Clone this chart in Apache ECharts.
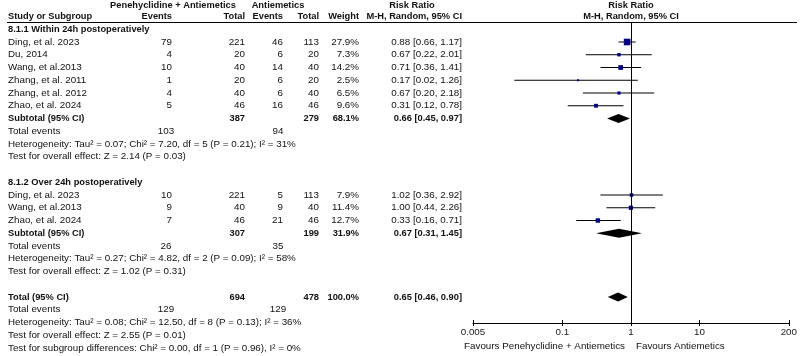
<!DOCTYPE html>
<html><head><meta charset="utf-8">
<script src="https://cdn.jsdelivr.net/npm/echarts@6/dist/echarts.min.js"></script>
<style>html,body{margin:0;padding:0;background:#fff}#c{width:800px;height:356px}</style>
</head><body><div id="c"></div>
<script>
// ---------- data ----------
const studyNames = ["Ding, et al. 2023","Du, 2014","Wang, et al.2013","Zhang, et al. 2011","Zhang, et al. 2012","Zhao, et al. 2024",
                    "Ding, et al. 2023","Wang, et al.2013","Zhao, et al. 2024"];
const studyRows  = [2,3,4,5,6,7,14,15,16];
const eventsExp  = [79,4,10,1,4,5,10,9,7];
const totalExp   = [221,20,40,20,40,46,221,40,46];
const eventsCtl  = [46,6,14,6,6,16,5,9,21];
const totalCtl   = [113,20,40,20,40,46,113,40,46];
const weights    = [27.9,7.3,14.2,2.5,6.5,9.6,7.9,11.4,12.7];
const rr         = [0.88,0.67,0.71,0.17,0.67,0.31,1.02,1.00,0.33];
const rrLow      = [0.66,0.22,0.36,0.02,0.20,0.12,0.36,0.44,0.16];
const rrHigh     = [1.17,2.01,1.41,1.26,2.18,0.78,2.92,2.26,0.71];

const pooledNames = ["Subtotal (95% CI)","Subtotal (95% CI)","Total (95% CI)"];
const pooledRows  = [8,17,22];
const pooledTotExp = [387,307,694];
const pooledTotCtl = [279,199,478];
const pooledWeight = [68.1,31.9,100.0];
const pooledRR   = [0.66,0.67,0.65];
const pooledLow  = [0.45,0.31,0.46];
const pooledHigh = [0.97,1.45,0.90];

const totalEventsRows = [9,18,23];
const totalEventsExp  = [103,26,129];
const totalEventsCtl  = [94,35,129];

const headingTexts = ["8.1.1 Within 24h postoperatively","8.1.2 Over 24h postoperatively"];
const headingRows  = [1,13];
const noteTexts = [
  "Heterogeneity: Tau\u00b2 = 0.07; Chi\u00b2 = 7.20, df = 5 (P = 0.21); I\u00b2 = 31%",
  "Test for overall effect: Z = 2.14 (P = 0.03)",
  "Heterogeneity: Tau\u00b2 = 0.27; Chi\u00b2 = 4.82, df = 2 (P = 0.09); I\u00b2 = 58%",
  "Test for overall effect: Z = 1.02 (P = 0.31)",
  "Heterogeneity: Tau\u00b2 = 0.08; Chi\u00b2 = 12.50, df = 8 (P = 0.13); I\u00b2 = 36%",
  "Test for overall effect: Z = 2.55 (P = 0.01)",
  "Test for subgroup differences: Chi\u00b2 = 0.00, df = 1 (P = 0.96), I\u00b2 = 0%"
];
const noteRows = [10,11,19,20,24,25,26];

const tickValues = [0.005,0.1,1,10,200];
const tickLabels = ["0.005","0.1","1","10","200"];

// ---------- chart ----------
const FONT = '"Liberation Sans", Arial, sans-serif';
const REG = 9.8, BOLD = 9.3;
const chart = echarts.init(document.getElementById('c'), null, {renderer:'canvas'});

const studyData = studyRows.map((r,i)=>[rr[i], r, rrLow[i], rrHigh[i], weights[i]]);
const pooledData = pooledRows.map((r,i)=>[pooledRR[i], r, pooledLow[i], pooledHigh[i]]);

chart.setOption({
  animation:false,
  grid:{left:473, right:11, top:22, bottom:33, containLabel:false},
  xAxis:[{
    type:'log', logBase:10, min:0.005, max:200,
    axisLine:{show:true, lineStyle:{color:'#000', width:1}},
    axisTick:{show:true, inside:false, length:3, lineStyle:{color:'#000'}, customValues:tickValues},
    axisLabel:{show:true, customValues:tickValues, formatter:(v)=>{const i=tickValues.findIndex(t=>Math.abs(t-v)/t<1e-6);return i>=0?tickLabels[i]:'';},
      color:'#222', fontFamily:FONT, fontSize:REG, margin:4},
    splitLine:{show:false}
  },{
    type:'log', logBase:10, min:0.005, max:200, position:'bottom',
    axisLine:{show:false},
    axisTick:{show:true, inside:true, length:3, lineStyle:{color:'#000'}, customValues:tickValues},
    axisLabel:{show:false}, splitLine:{show:false}
  }],
  yAxis:{type:'value', inverse:true, min:0.4314, max:24.039, show:false},
  series:[{
    type:'custom', name:'studies', data:studyData, clip:false,
    renderItem:(params, api)=>{
      const y = api.value(1);
      const c = api.coord([api.value(0), y]);
      const l = api.coord([api.value(2), y]);
      const h = api.coord([api.value(3), y]);
      const s = Math.max(2, 1.25*Math.sqrt(api.value(4)));
      return {type:'group', children:[
        {type:'line', shape:{x1:l[0], y1:c[1], x2:h[0], y2:c[1]}, style:{stroke:'#000', lineWidth:1}},
        {type:'rect', shape:{x:c[0]-s/2, y:c[1]-s/2, width:s, height:s}, style:{fill:'#00008b'}}
      ]};
    },
    markLine:{silent:true, symbol:'none', label:{show:false}, lineStyle:{color:'#000', width:1, type:'solid'}, data:[{xAxis:1}]}
  },{
    type:'custom', name:'pooled', data:pooledData, clip:false,
    renderItem:(params, api)=>{
      const y = api.value(1);
      const c = api.coord([api.value(0), y]);
      const l = api.coord([api.value(2), y]);
      const h = api.coord([api.value(3), y]);
      const hh = 4.5;
      return {type:'polygon', shape:{points:[[l[0],c[1]],[c[0],c[1]-hh],[h[0],c[1]],[c[0],c[1]+hh]]}, style:{fill:'#000'}};
    }
  }]
});

// ---------- table text ----------
const rowY = (r)=>chart.convertToPixel({yAxisIndex:0}, r);
const g = [];
function txt(s, x, y, align, bold){
  g.push({type:'text', x:x, y:y, silent:true,
    style:{text:String(s), x:0, y:0, align:align||'left', verticalAlign:'middle',
      font:(bold?'bold '+BOLD:REG)+'px '+FONT, fill:'#111'}});
}
const X = {name:8, ev1:172, tot1:245, ev2:283, tot2:319, wt:359, rr:462, te1:166, te2:278};

// headers
txt('Penehyclidine + Antiemetics', 173, 5.5, 'center', true);
txt('Antiemetics', 278, 5.5, 'center', true);
txt('Risk Ratio', 412, 5.5, 'center', true);
txt('Risk Ratio', 631, 5.5, 'center', true);
txt('Study or Subgroup', X.name, 16.5, 'left', true);
txt('Events', X.ev1, 16.5, 'right', true);
txt('Total', X.tot1, 16.5, 'right', true);
txt('Events', X.ev2, 16.5, 'right', true);
txt('Total', X.tot2, 16.5, 'right', true);
txt('Weight', X.wt, 16.5, 'right', true);
txt('M-H, Random, 95% CI', X.rr, 16.5, 'right', true);
txt('M-H, Random, 95% CI', 631, 16.5, 'center', true);
g.push({type:'line', silent:true, shape:{x1:7, y1:22.5, x2:797, y2:22.5}, style:{stroke:'#000', lineWidth:1}});

headingTexts.forEach((t,i)=>txt(t, X.name, rowY(headingRows[i]), 'left', true));
studyNames.forEach((n,i)=>{
  const y = rowY(studyRows[i]);
  txt(n, X.name, y, 'left');
  txt(eventsExp[i], X.ev1, y, 'right');
  txt(totalExp[i], X.tot1, y, 'right');
  txt(eventsCtl[i], X.ev2, y, 'right');
  txt(totalCtl[i], X.tot2, y, 'right');
  txt(weights[i].toFixed(1)+'%', X.wt, y, 'right');
  txt(rr[i].toFixed(2)+' ['+rrLow[i].toFixed(2)+', '+rrHigh[i].toFixed(2)+']', X.rr, y, 'right');
});
pooledNames.forEach((n,i)=>{
  const y = rowY(pooledRows[i]);
  txt(n, X.name, y, 'left', true);
  txt(pooledTotExp[i], X.tot1, y, 'right', true);
  txt(pooledTotCtl[i], X.tot2, y, 'right', true);
  txt(pooledWeight[i].toFixed(1)+'%', X.wt, y, 'right', true);
  txt(pooledRR[i].toFixed(2)+' ['+pooledLow[i].toFixed(2)+', '+pooledHigh[i].toFixed(2)+']', X.rr, y, 'right', true);
});
totalEventsRows.forEach((r,i)=>{
  const y = rowY(r);
  txt('Total events', X.name, y, 'left');
  txt(totalEventsExp[i], X.te1, y, 'center');
  txt(totalEventsCtl[i], X.te2, y, 'center');
});
noteTexts.forEach((t,i)=>txt(t, X.name, rowY(noteRows[i]), 'left'));

txt('Favours Penehyclidine + Antiemetics', 625, 346, 'right');
txt('Favours Antiemetics', 636, 346, 'left');

chart.setOption({graphic:{elements:g}});
</script>
</body></html>
